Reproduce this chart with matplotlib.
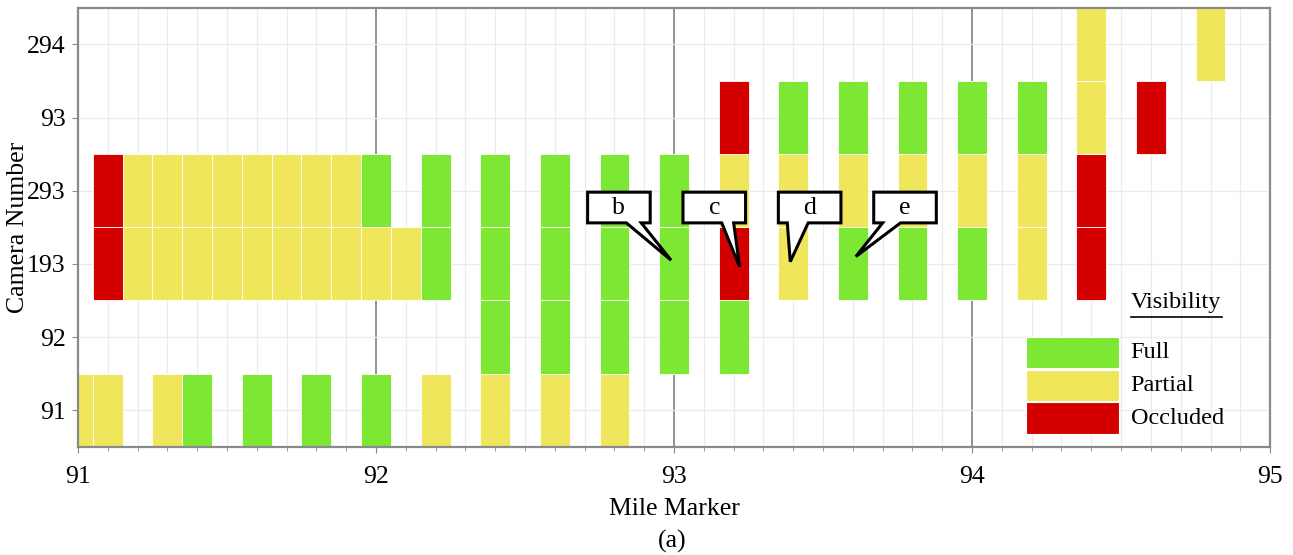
import matplotlib.pyplot as plt
from matplotlib.patches import Rectangle, Polygon
from matplotlib.ticker import MultipleLocator

plt.rcParams['font.family'] = ['Liberation Serif', 'DejaVu Serif']

cameras = ['91', '92', '193', '293', '93', '294']

# one list of mile markers and one of visibility codes per camera row
row_91_miles = [91.0, 91.1, 91.3, 91.4, 91.6, 91.8, 92.0, 92.2, 92.4, 92.6, 92.8]
row_91_vis = ['P', 'P', 'P', 'F', 'F', 'F', 'F', 'P', 'P', 'P', 'P']

row_92_miles = [92.4, 92.6, 92.8, 93.0, 93.2]
row_92_vis = ['F', 'F', 'F', 'F', 'F']

row_193_miles = [91.1, 91.2, 91.3, 91.4, 91.5, 91.6, 91.7, 91.8, 91.9, 92.0, 92.1,
                 92.2, 92.4, 92.6, 92.8, 93.0, 93.2, 93.4, 93.6, 93.8, 94.0, 94.2, 94.4]
row_193_vis = ['O', 'P', 'P', 'P', 'P', 'P', 'P', 'P', 'P', 'P', 'P',
               'F', 'F', 'F', 'F', 'F', 'O', 'P', 'F', 'F', 'F', 'P', 'O']

row_293_miles = [91.1, 91.2, 91.3, 91.4, 91.5, 91.6, 91.7, 91.8, 91.9, 92.0,
                 92.2, 92.4, 92.6, 92.8, 93.0, 93.2, 93.4, 93.6, 93.8, 94.0, 94.2, 94.4]
row_293_vis = ['O', 'P', 'P', 'P', 'P', 'P', 'P', 'P', 'P', 'F',
               'F', 'F', 'F', 'F', 'F', 'P', 'P', 'P', 'P', 'P', 'P', 'O']

row_93_miles = [93.2, 93.4, 93.6, 93.8, 94.0, 94.2, 94.4, 94.6]
row_93_vis = ['O', 'F', 'F', 'F', 'F', 'F', 'P', 'O']

row_294_miles = [94.4, 94.8]
row_294_vis = ['P', 'P']

rows_miles = [row_91_miles, row_92_miles, row_193_miles, row_293_miles, row_93_miles, row_294_miles]
rows_vis = [row_91_vis, row_92_vis, row_193_vis, row_293_vis, row_93_vis, row_294_vis]

vis_names = {'F': 'Full', 'P': 'Partial', 'O': 'Occluded'}
vis_colors = {'F': '#7DE834', 'P': '#F0E65C', 'O': '#D40000'}

# callouts: label, pointed-at (mile, row), box left edge, tail base
callout_labels = ['b', 'c', 'd', 'e']
callout_targets = [(92.99, 2.05), (93.22, 1.96), (93.39, 2.03), (93.61, 2.10)]
callout_left = [92.71, 93.03, 93.35, 93.67]
callout_tail = [(92.84, 92.89), (93.16, 93.20), (93.38, 93.45), (93.70, 93.76)]

FS_TICK = 18.5
FS = 17

fig = plt.figure(figsize=(12.93, 5.55), dpi=100)
ax = fig.add_axes([0.0603, 0.195, 0.922, 0.791])

for r, (miles, vis) in enumerate(zip(rows_miles, rows_vis)):
    ax.bar(miles, 1.0, bottom=r - 0.5, width=0.1,
           color=[vis_colors[v] for v in vis], edgecolor='white', linewidth=0.6,
           align='center', zorder=2)

ax.set_xlim(91, 95)
ax.set_ylim(-0.5, len(cameras) - 0.5)
ax.set_yticks(range(len(cameras)))
ax.set_yticklabels(cameras)
ax.xaxis.set_major_locator(MultipleLocator(1))
ax.xaxis.set_minor_locator(MultipleLocator(0.1))
ax.grid(which='minor', axis='x', color='#ebebeb', lw=0.9, zorder=0)
ax.grid(which='major', axis='y', color='#ebebeb', lw=0.9, zorder=0)
ax.grid(which='major', axis='x', color='#8a8a8a', lw=1.3, zorder=1)
ax.set_axisbelow(True)
for s in ax.spines.values():
    s.set_color('#8a8a8a')
    s.set_linewidth(1.6)
ax.tick_params(axis='both', which='major', labelsize=FS_TICK, colors='#8a8a8a', labelcolor='black', length=4)
ax.tick_params(axis='x', which='minor', colors='#8a8a8a', length=3)
ax.tick_params(axis='x', pad=10)
ax.tick_params(axis='y', pad=5)
ax.set_xlabel('Mile Marker', fontsize=FS_TICK, va='center')
ax.set_ylabel('Camera Number', fontsize=FS_TICK, va='center')
ax.xaxis.set_label_coords(0.5, -0.142)
ax.yaxis.set_label_coords(-0.050, 0.5)

# callout boxes
box_w, box_y0, box_y1 = 0.21, 2.56, 2.98
for lab, (tx, ty), x0, (b0, b1) in zip(callout_labels, callout_targets, callout_left, callout_tail):
    pts = [(x0, box_y1), (x0 + box_w, box_y1), (x0 + box_w, box_y0), (b1, box_y0),
           (tx, ty), (b0, box_y0), (x0, box_y0)]
    ax.add_patch(Polygon(pts, closed=True, facecolor='white', edgecolor='black', lw=2.2, zorder=5))
    ax.text(x0 + box_w / 2, (box_y0 + box_y1) / 2, lab, fontsize=FS_TICK,
            ha='center', va='center', zorder=6)

# legend drawn in axes fraction
tr = ax.transAxes
ax.text(0.883, 0.328, 'Visibility', transform=tr, fontsize=FS + 0.5, ha='left', va='center', zorder=6)
ax.plot([0.883, 0.960], [0.296, 0.296], transform=tr, color='black', lw=1.2, zorder=6)
leg_y = [0.180, 0.105, 0.030]
for (code, name), y in zip(vis_names.items(), leg_y):
    ax.add_patch(Rectangle((0.795, y), 0.078, 0.071, transform=tr, facecolor=vis_colors[code],
                           edgecolor='white', lw=0.8, zorder=6))
    ax.text(0.883, y + 0.035, name, transform=tr, fontsize=FS + 0.5, ha='left', va='center', zorder=6)

fig.text(0.52, 0.024, '(a)', fontsize=FS_TICK, ha='center', va='center')

fig.savefig('out.png', dpi=100)
